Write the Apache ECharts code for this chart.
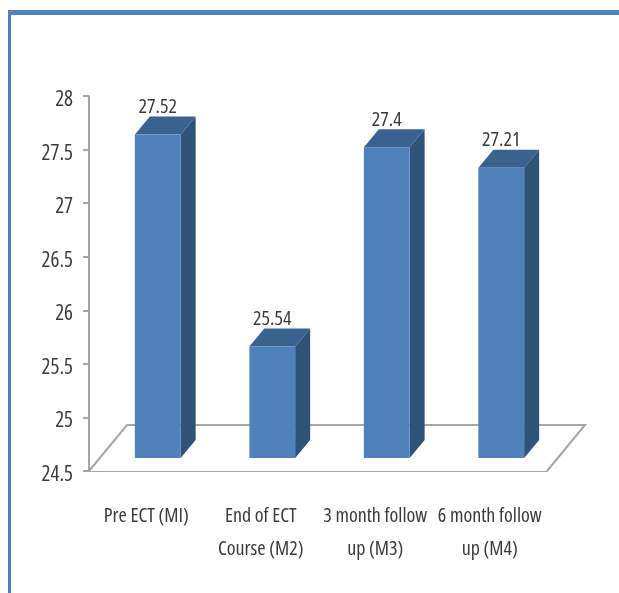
<!DOCTYPE html>
<html>
<head>
<meta charset="utf-8">
<style>html,body{margin:0;padding:0;background:#fff}#chart{width:619px;height:593px}</style>
<script src="https://cdn.jsdelivr.net/npm/echarts@6/dist/echarts.min.js"></script>
</head>
<body>
<div id="chart"></div>
<script>
// Mean score at each assessment point
const categories = ['Pre ECT (MI)', 'End of ECT\nCourse (M2)', '3 month follow\nup (M3)', '6 month follow\nup (M4)'];
const scores = [27.52, 25.54, 27.4, 27.21];
const yTicks = { min: 24.5, max: 28, interval: 0.5 };

const FONT = '"Open Sans", sans-serif';
const STRETCH = 'condensed';
const AXIS_COLOR = '#a6a6a6';
const TEXT_COLOR = '#3a3a3a';
// Oblique projection used for the 3D look
const FLOOR_DX = 38, FLOOR_DY = 46;   // depth of the floor plane
const BAR_DX = 15, BAR_DY = 18;       // depth of each column
const PLANE_SHIFT_X = 11.5, PLANE_SHIFT_Y = 13; // columns stand part-way into the floor

function renderFloor(params) {
  const c = params.coordSys;
  const l = c.x, r = c.x + c.width, b = c.y + c.height;
  return {
    type: 'polyline',
    silent: true,
    shape: { points: [[l, b], [l + FLOOR_DX, b - FLOOR_DY], [r + FLOOR_DX, b - FLOOR_DY], [r, b]] },
    style: { fill: '#fff', stroke: AXIS_COLOR, lineWidth: 2 }
  };
}

function renderColumn(params, api) {
  const idx = api.value(0), val = api.value(1);
  const top = api.coord([idx, val]);
  const base = api.coord([idx, yTicks.min]);
  const w = api.size([1, 0])[0] * 0.4;
  const x0 = top[0] + PLANE_SHIFT_X - w / 2, x1 = x0 + w;
  const yT = top[1] - PLANE_SHIFT_Y, yB = base[1] - PLANE_SHIFT_Y;
  return {
    type: 'group',
    children: [
      { type: 'polygon', shape: { points: [[x1, yT], [x1 + BAR_DX, yT - BAR_DY], [x1 + BAR_DX, yB - BAR_DY], [x1, yB]] },
        style: { fill: '#2f5279' } },
      { type: 'text', style: {
          text: String(val), x: (x0 + x1) / 2, y: yT - 27,
          align: 'center', verticalAlign: 'middle',
          font: STRETCH + ' 20px ' + FONT, fill: TEXT_COLOR } },
      { type: 'polygon', shape: { points: [[x0, yT], [x0 + BAR_DX, yT - BAR_DY], [x1 + BAR_DX, yT - BAR_DY], [x1, yT]] },
        style: { fill: '#3a6291' } },
      { type: 'rect', shape: { x: x0, y: yT, width: w, height: yB - yT },
        style: { fill: '#4f81bd' } }
    ]
  };
}

const chart = echarts.init(document.getElementById('chart'), null, { renderer: 'canvas' });
chart.setOption({
  animation: false,
  backgroundColor: '#fff',
  grid: { left: 89, top: 96, width: 458, height: 375, containLabel: false },
  xAxis: {
    type: 'category',
    data: categories,
    axisLine: { lineStyle: { color: AXIS_COLOR, width: 2 } },
    axisTick: { length: 9, lineStyle: { color: AXIS_COLOR, width: 2 } },
    axisLabel: { color: TEXT_COLOR, fontFamily: FONT, fontStyle: STRETCH, fontSize: 20, lineHeight: 33, margin: 29, interval: 0 }
  },
  yAxis: {
    type: 'value',
    min: yTicks.min, max: yTicks.max, interval: yTicks.interval,
    splitLine: { show: false },
    axisLine: { show: true, lineStyle: { color: AXIS_COLOR, width: 2 } },
    axisTick: { show: true, length: 6, lineStyle: { color: AXIS_COLOR, width: 2 } },
    axisLabel: { color: TEXT_COLOR, fontFamily: FONT, fontStyle: STRETCH, fontSize: 21, margin: 16, verticalAlign: 'top', lineHeight: 8 }
  },
  series: [
    { type: 'custom', name: 'floor', z: 1, clip: false, silent: true,
      renderItem: renderFloor, data: [[0, yTicks.min]], encode: { x: 0, y: 1 } },
    { type: 'custom', name: 'score', z: 3, clip: false,
      renderItem: renderColumn,
      data: scores.map((v, i) => [i, v]), encode: { x: 0, y: 1 } }
  ],
  graphic: [
    // Slide frame: top and left rules
    { type: 'rect', z: 10, shape: { x: 8, y: 10, width: 611, height: 5 }, style: { fill: '#4f81bd' } },
    { type: 'rect', z: 10, shape: { x: 8, y: 10, width: 3, height: 583 }, style: { fill: '#4f81bd' } }
  ]
});
</script>
</body>
</html>
